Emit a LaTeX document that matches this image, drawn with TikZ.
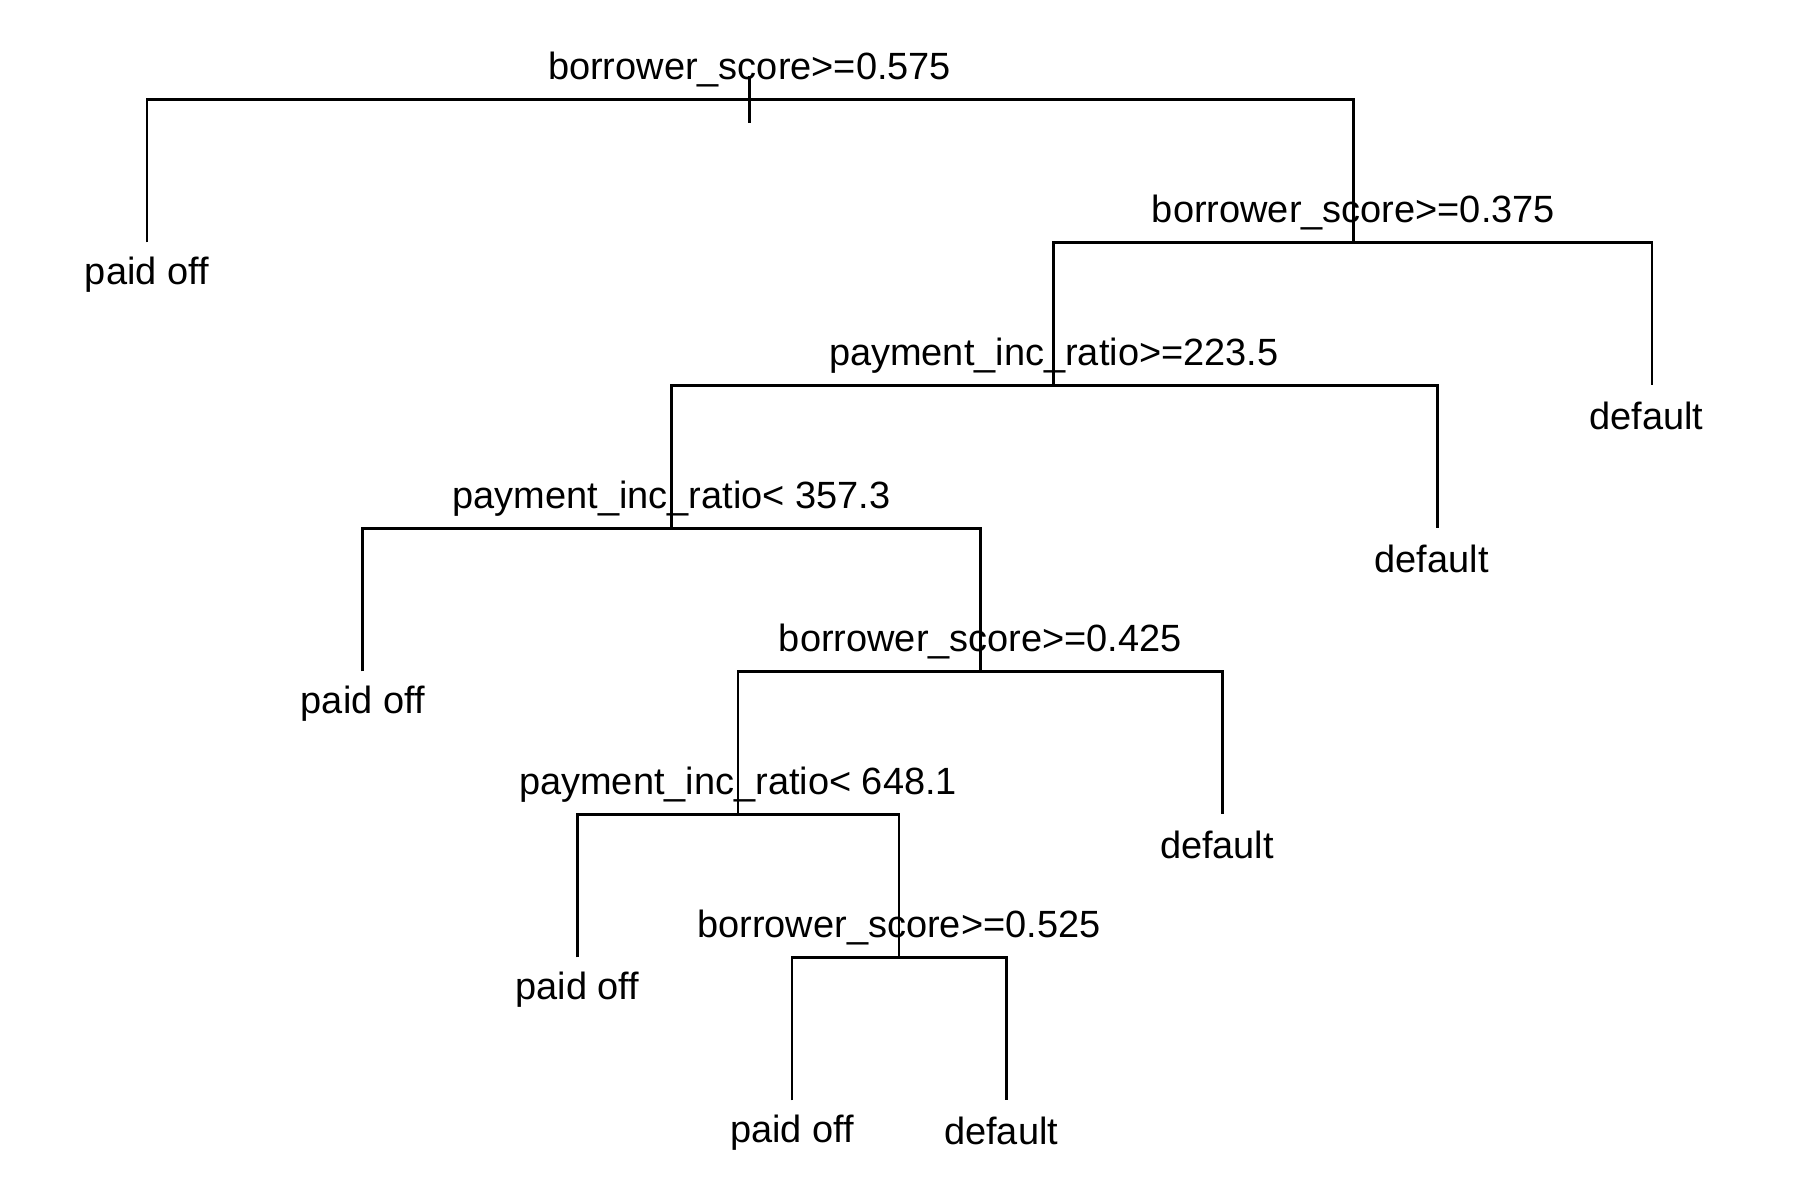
\documentclass[tikz,border=0pt]{standalone}
\usepackage{fontspec}
\setmainfont{Liberation Sans}
\usetikzlibrary{positioning}
\tikzset{
  br/.style={line width=0.75pt,draw=black},
  lbl/.style={anchor=base,inner sep=0pt,yshift=5.7pt},
  leaf/.style={anchor=base,inner sep=0pt,yshift=-11.9pt},
  dleaf/.style={anchor=base,inner sep=0pt,yshift=-12.6pt,xshift=-1.6pt},
}
\begin{document}
\begin{tikzpicture}[x=0.1mm,y=-0.1mm,font=\fontsize{10.8}{13}\selectfont]
\useasboundingbox (0,0) rectangle (1800,1200);
% splits
\coordinate (s1) at (749.6,99.3);
\coordinate (s2) at (1353.4,242.3);
\coordinate (s3) at (1053.8,385.3);
\coordinate (s4) at (671.6,528.3);
\coordinate (s5) at (980.4,671.3);
\coordinate (s6) at (738.1,814.3);
\coordinate (s7) at (898.9,957.3);
% leaf ends
\coordinate (a) at (146.9,242.3);
\coordinate (b) at (1651.9,385.3);
\coordinate (c) at (1437.2,528.3);
\coordinate (d) at (362.8,671.3);
\coordinate (e) at (1222.6,814.3);
\coordinate (f) at (577.4,957.3);
\coordinate (g) at (792.1,1100.3);
\coordinate (h) at (1006.8,1100.3);
\coordinate (r0) at (749.6,76.3);
\coordinate (r1) at (749.6,123.3);

\draw[br] (r0) -- (r1);
\draw[br] (a) |- (s1) -| (s2);
\draw[br] (s3) |- (s2) -| (b);
\draw[br] (s4) |- (s3) -| (c);
\draw[br] (d) |- (s4) -| (s5);
\draw[br] (s6) |- (s5) -| (e);
\draw[br] (f) |- (s6) -| (s7);
\draw[br] (g) |- (s7) -| (h);

\node[lbl] (t1) at (s1) {borrower\_score>=0.575};
\node[lbl] (t2) at (s2) {borrower\_score>=0.375};
\node[lbl] (t3) at (s3) {payment\_inc\_ratio>=223.5};
\node[lbl] (t4) at (s4) {payment\_inc\_ratio< 357.3};
\node[lbl] (t5) at (s5) {borrower\_score>=0.425};
\node[lbl] (t6) at (s6) {payment\_inc\_ratio< 648.1};
\node[lbl] (t7) at (s7) {borrower\_score>=0.525};

\node[leaf] (la) at (a) {paid off};
\node[dleaf] (lb) at (b) {default};
\node[dleaf] (lc) at (c) {default};
\node[leaf] (ld) at (d) {paid off};
\node[dleaf] (le) at (e) {default};
\node[leaf] (lf) at (f) {paid off};
\node[leaf] (lg) at (g) {paid off};
\node[dleaf] (lh) at (h) {default};
\end{tikzpicture}
\end{document}
